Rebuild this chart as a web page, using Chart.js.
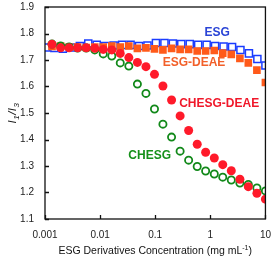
<!DOCTYPE html>
<html>
<head>
<meta charset="utf-8">
<script src="https://cdn.jsdelivr.net/npm/chart.js@4"></script>
<style>
  html, body { margin: 0; padding: 0; background: #fff; }
  #wrap { width: 272px; height: 260px; }
</style>
</head>
<body>
<div id="wrap"><canvas id="chart" width="272" height="260"></canvas></div>
<script>
// concentrations (mg/mL)
const concEsg = [0.00104, 0.00148, 0.00211, 0.00301, 0.00429, 0.0061, 0.00869, 0.0124, 0.0176, 0.0251,
    0.0357, 0.0508, 0.0723, 0.103, 0.147, 0.209, 0.297, 0.423, 0.602, 0.858,
    1.22, 1.74, 2.48, 3.52, 5.02, 7.14, 10];
const concOther = [0.00134, 0.00192, 0.00274, 0.0039, 0.0056, 0.008, 0.0114, 0.0163, 0.0232, 0.0332,
    0.0475, 0.0679, 0.097, 0.138, 0.198, 0.283, 0.404, 0.578, 0.822, 1.18,
    1.68, 2.40, 3.44, 4.89, 7.0, 10];

// I1/I3 values
const esg = [1.747, 1.745, 1.743, 1.747, 1.753, 1.762, 1.757, 1.753, 1.755, 1.757,
    1.757, 1.753, 1.755, 1.764, 1.764, 1.762, 1.760, 1.760, 1.757, 1.757,
    1.753, 1.751, 1.749, 1.738, 1.725, 1.704, 1.679];
const esgDeae = [1.751, 1.753, 1.749, 1.749, 1.747, 1.749, 1.749, 1.753, 1.749, 1.753,
    1.744, 1.746, 1.742, 1.738, 1.744, 1.740, 1.740, 1.734, 1.734, 1.736,
    1.726, 1.721, 1.706, 1.689, 1.662, 1.615];
const chesgDeae = [1.759, 1.746, 1.746, 1.746, 1.746, 1.744, 1.740, 1.738, 1.725, 1.709,
    1.691, 1.675, 1.646, 1.602, 1.549, 1.489, 1.434, 1.382, 1.352, 1.330,
    1.305, 1.282, 1.250, 1.222, 1.197, 1.175];
const chesg = [1.760, 1.753, 1.749, 1.745, 1.745, 1.738, 1.723, 1.715, 1.689, 1.677,
    1.609, 1.574, 1.515, 1.458, 1.409, 1.356, 1.322, 1.298, 1.281, 1.270,
    1.258, 1.247, 1.236, 1.230, 1.217, 1.206];

const xTicks = [0.001, 0.01, 0.1, 1, 10];
const xTickLabels = ['0.001', '0.01', '0.1', '1', '10'];

// series labels: text, x, y (data coords), colour
const seriesLabels = [
    ['ESG', 1.33, 1.802, '#2a44d6'],
    ['ESG-DEAE', 0.505, 1.689, '#f2602a'],
    ['CHESG-DEAE', 1.445, 1.534, '#f0182a'],
    ['CHESG', 0.0794, 1.338, '#16901a']
];

const FONT = "'Liberation Sans', Arial, sans-serif";

function pts(xs, ys) {
    return ys.map((y, i) => ({ x: xs[i], y: y }));
}

// box frame + inward ticks + labels
const framePlugin = {
    id: 'frame',
    afterDraw(chart) {
        const { ctx, chartArea: a, scales: { x, y } } = chart;
        ctx.save();
        ctx.strokeStyle = '#111';
        ctx.lineWidth = 1.3;
        ctx.strokeRect(a.left, a.top, a.right - a.left, a.bottom - a.top);

        ctx.beginPath();
        xTicks.forEach(v => {
            const px = Math.round(x.getPixelForValue(v)) + 0.5;
            ctx.moveTo(px, a.bottom);
            ctx.lineTo(px, a.bottom - 4);
        });
        y.ticks.forEach(t => {
            const py = Math.round(y.getPixelForValue(t.value)) + 0.5;
            ctx.moveTo(a.left, py);
            ctx.lineTo(a.left + 4, py);
        });
        ctx.stroke();

        ctx.font = 'bold 12px ' + FONT;
        ctx.textAlign = 'center';
        ctx.textBaseline = 'middle';
        seriesLabels.forEach(([txt, lx, ly, col]) => {
            ctx.fillStyle = col;
            ctx.fillText(txt, x.getPixelForValue(lx), y.getPixelForValue(ly));
        });

        // y title: I1/I3 (italic, subscripts)
        const cy = (a.top + a.bottom) / 2;
        ctx.translate(12, cy);
        ctx.rotate(-Math.PI / 2);
        ctx.fillStyle = '#111';
        ctx.textAlign = 'left';
        ctx.textBaseline = 'alphabetic';
        const parts = [['I', 11.5, 0], ['1', 8, 3], ['/', 11.5, 0], ['I', 11.5, 0], ['3', 8, 3]];
        let w = 0;
        parts.forEach(([s, fs]) => { ctx.font = 'italic ' + fs + 'px ' + FONT; w += ctx.measureText(s).width + 0.5; });
        let cx = -w / 2;
        parts.forEach(([s, fs, dy]) => {
            ctx.font = 'italic ' + fs + 'px ' + FONT;
            ctx.fillText(s, cx, 4 + dy);
            cx += ctx.measureText(s).width + 0.5;
        });
        ctx.restore();

        // x title with superscript
        ctx.save();
        ctx.fillStyle = '#111';
        ctx.textBaseline = 'alphabetic';
        ctx.textAlign = 'left';
        const main = 'ESG Derivatives Concentration (mg mL';
        ctx.font = '10.5px ' + FONT;
        const w1 = ctx.measureText(main).width;
        ctx.font = '7px ' + FONT;
        const w2 = ctx.measureText('-1').width;
        ctx.font = '10.5px ' + FONT;
        const w3 = ctx.measureText(')').width;
        let sx = (a.left + a.right) / 2 - (w1 + w2 + w3) / 2;
        const by = 254;
        ctx.fillText(main, sx, by);
        ctx.font = '7px ' + FONT;
        ctx.fillText('-1', sx + w1, by - 4);
        ctx.font = '10.5px ' + FONT;
        ctx.fillText(')', sx + w1 + w2, by);
        ctx.restore();
    }
};

new Chart(document.getElementById('chart'), {
    type: 'scatter',
    data: {
        datasets: [
            {
                label: 'CHESG-DEAE',
                data: pts(concOther, chesgDeae),
                pointStyle: 'circle',
                pointRadius: 4.5,
                backgroundColor: '#ff1a2a',
                borderColor: '#ff1a2a',
                borderWidth: 0,
                order: 0
            },
            {
                label: 'CHESG',
                data: pts(concOther, chesg),
                pointStyle: 'circle',
                pointRadius: 3.6,
                backgroundColor: 'rgba(255,255,255,0)',
                borderColor: '#12891a',
                borderWidth: 1.8,
                order: 1
            },
            {
                label: 'ESG-DEAE',
                data: pts(concOther, esgDeae),
                pointStyle: 'rect',
                pointRadius: 5.4,
                backgroundColor: '#ff5a1a',
                borderColor: '#ff5a1a',
                borderWidth: 0,
                order: 2
            },
            {
                label: 'ESG',
                data: pts(concEsg, esg),
                pointStyle: 'rect',
                pointRadius: 5,
                backgroundColor: 'rgba(255,255,255,0)',
                borderColor: '#1a3cff',
                borderWidth: 1.5,
                order: 3
            }
        ]
    },
    options: {
        responsive: false,
        animation: false,
        events: [],
        layout: { padding: 0 },
        plugins: {
            legend: { display: false },
            tooltip: { enabled: false }
        },
        scales: {
            x: {
                type: 'logarithmic',
                min: 0.001,
                max: 10,
                afterBuildTicks(scale) {
                    scale.ticks = xTicks.map(v => ({ value: v }));
                },
                afterFit(scale) { scale.height = 41; },
                grid: { display: false, tickLength: 9 },
                border: { display: false },
                ticks: {
                    autoSkip: false,
                    maxRotation: 0,
                    padding: 1,
                    color: '#222',
                    font: { family: FONT, size: 10 },
                    callback: (v) => {
                        const i = xTicks.indexOf(v);
                        return i >= 0 ? xTickLabels[i] : '';
                    }
                }
            },
            y: {
                min: 1.1,
                max: 1.9,
                afterFit(scale) { scale.width = 45; },
                grid: { display: false, tickLength: 10 },
                border: { display: false },
                ticks: {
                    stepSize: 0.1,
                    padding: 1,
                    color: '#222',
                    font: { family: FONT, size: 10 },
                    callback: (v) => v.toFixed(1)
                }
            }
        }
    },
    plugins: [framePlugin]
});
</script>
</body>
</html>
